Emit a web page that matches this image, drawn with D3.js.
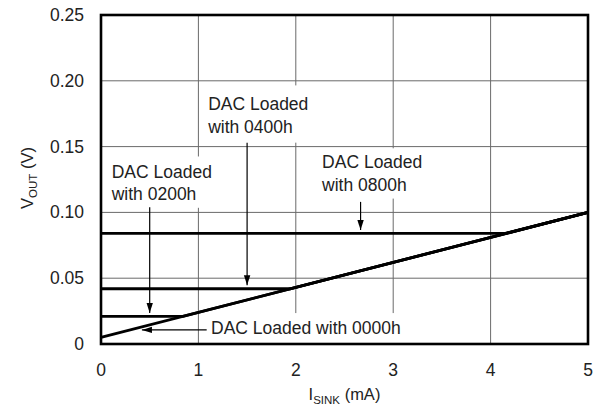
<!DOCTYPE html>
<html>
<head>
<meta charset="utf-8">
<script src="https://cdn.jsdelivr.net/npm/d3@7"></script>
<style>
  html, body { margin: 0; padding: 0; background: #fff; }
  svg { display: block; }
  text { font-family: "Liberation Sans", Arial, Helvetica, sans-serif; fill: #222; }
</style>
</head>
<body>
<script>
// ---- data ----
const xTicks = [0, 1, 2, 3, 4, 5];
const yTicks = [0, 0.05, 0.10, 0.15, 0.20, 0.25];
const yTickLabels = ["0", "0.05", "0.10", "0.15", "0.20", "0.25"];

const i0000 = [0, 5];
const v0000 = [0.005, 0.100];
const i0200 = [0, 0.84, 5];
const v0200 = [0.021, 0.021, 0.100];
const i0400 = [0, 1.95, 5];
const v0400 = [0.042, 0.042, 0.100];
const i0800 = [0, 4.15, 5];
const v0800 = [0.084, 0.084, 0.100];

// annotations: label lines, text position and vertical arrow (data units)
const annotations = [
  { lines: ["DAC Loaded", "with 0400h"], tx: 1.1, ty: 0.1775, ax: 1.5, ay0: 0.153, ay1: 0.0435 },
  { lines: ["DAC Loaded", "with 0200h"], tx: 0.11, ty: 0.1265, ax: 0.5, ay0: 0.104, ay1: 0.0225 },
  { lines: ["DAC Loaded", "with 0800h"], tx: 2.27, ty: 0.1335, ax: 2.665, ay0: 0.108, ay1: 0.0855 },
];

const W = 605, H = 411;
const m = { left: 101, top: 15, right: 17, bottom: 67 };
const iw = W - m.left - m.right, ih = H - m.top - m.bottom;

const svg = d3.select("body").append("svg").attr("width", W).attr("height", H);
const g = svg.append("g").attr("transform", `translate(${m.left},${m.top})`);

const x = d3.scaleLinear().domain([0, 5]).range([0, iw]);
const y = d3.scaleLinear().domain([0, 0.25]).range([ih, 0]);

// arrow marker
const defs = svg.append("defs");
defs.append("marker").attr("id", "ah").attr("viewBox", "0 0 10 10")
  .attr("refX", 10).attr("refY", 5).attr("markerWidth", 10).attr("markerHeight", 10)
  .attr("markerUnits", "userSpaceOnUse").attr("orient", "auto")
  .append("path").attr("d", "M0,1.8 L10,5 L0,8.2 Z").attr("fill", "#000");

// grid
g.append("g").selectAll("line").data(xTicks.slice(1, -1)).join("line")
  .attr("x1", d => x(d)).attr("x2", d => x(d)).attr("y1", 0).attr("y2", ih)
  .attr("stroke", "#6a6a6a").attr("stroke-width", 1);
g.append("g").selectAll("line").data(yTicks.slice(1, -1)).join("line")
  .attr("y1", d => y(d)).attr("y2", d => y(d)).attr("x1", 0).attr("x2", iw)
  .attr("stroke", "#6a6a6a").attr("stroke-width", 1);

// white boxes behind labels (break gridlines)
const fs = 17.5;
const boxes = [
  [x(1.05), y(0.1965), x(2.1), y(0.153)],
  [x(0.05), y(0.1425), x(1.12), y(0.1035)],
  [x(2.2), y(0.1487), x(3.3), y(0.1105)],
  [x(1.07), y(0.0235), x(3.3), y(0)]
];
g.append("g").selectAll("rect").data(boxes).join("rect")
  .attr("x", d => d[0]).attr("y", d => d[1])
  .attr("width", d => d[2] - d[0]).attr("height", d => d[3] - d[1])
  .attr("fill", "#fff");

// series
const line = d3.line().x(d => x(d[0])).y(d => y(d[1]));
const series = [[i0000, v0000], [i0200, v0200], [i0400, v0400], [i0800, v0800]];
g.append("g").selectAll("path").data(series).join("path")
  .attr("d", s => line(s[0].map((xi, k) => [xi, s[1][k]])))
  .attr("fill", "none").attr("stroke", "#000").attr("stroke-width", 2.8)
  .attr("stroke-linejoin", "round");

// frame
g.append("rect").attr("x", 0).attr("y", 0).attr("width", iw).attr("height", ih)
  .attr("fill", "none").attr("stroke", "#000").attr("stroke-width", 2.6);

// annotations
annotations.forEach(a => {
  const t = g.append("text").attr("x", x(a.tx)).attr("y", y(a.ty)).attr("font-size", fs);
  a.lines.forEach((l, k) => t.append("tspan").attr("x", x(a.tx)).attr("dy", k ? 22.5 : 0).text(l));
  g.append("line").attr("x1", x(a.ax)).attr("x2", x(a.ax))
    .attr("y1", y(a.ay0)).attr("y2", y(a.ay1) - 1.5)
    .attr("stroke", "#000").attr("stroke-width", 1.2).attr("marker-end", "url(#ah)");
});
// 0000h annotation (horizontal arrow)
g.append("text").attr("x", x(1.13)).attr("y", y(0.0074)).attr("font-size", fs)
  .text("DAC Loaded with 0000h");
g.append("line").attr("x1", x(1.085)).attr("x2", x(0.42))
  .attr("y1", y(0.0107)).attr("y2", y(0.0107))
  .attr("stroke", "#000").attr("stroke-width", 1.2).attr("marker-end", "url(#ah)");

// tick labels
g.append("g").selectAll("text").data(xTicks).join("text")
  .attr("x", d => x(d)).attr("y", ih + 32).attr("text-anchor", "middle")
  .attr("font-size", fs).text(d => d);
g.append("g").selectAll("text").data(yTicks).join("text")
  .attr("x", -17).attr("y", d => y(d) + 6).attr("text-anchor", "end")
  .attr("font-size", fs).text((d, i) => yTickLabels[i]);

// axis titles
const xt = svg.append("text").attr("x", m.left + x(2.5)).attr("y", 400)
  .attr("text-anchor", "middle").attr("font-size", 16.5);
xt.append("tspan").text("I");
xt.append("tspan").attr("font-size", 11.5).attr("dy", 4).text("SINK");
xt.append("tspan").attr("dy", -4).text(" (mA)");

const yt = svg.append("text").attr("transform", `translate(33,178) rotate(-90)`)
  .attr("text-anchor", "middle").attr("font-size", 16.5);
yt.append("tspan").text("V");
yt.append("tspan").attr("font-size", 11.5).attr("dy", 4).text("OUT");
yt.append("tspan").attr("dy", -4).text(" (V)");
</script>
</body>
</html>
